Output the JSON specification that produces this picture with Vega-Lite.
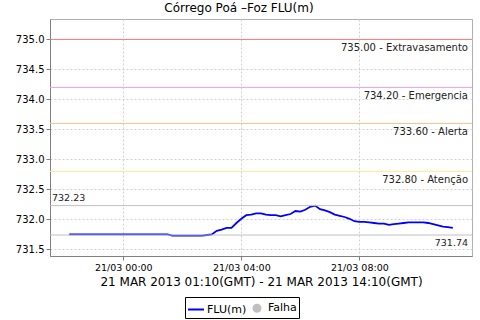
{
  "$schema": "https://vega.github.io/schema/vega-lite/v6.json",
  "width": 422,
  "height": 237,
  "autosize": {"type": "none"},
  "padding": {"left": 50, "top": 19, "right": 8, "bottom": 64},
  "background": "white",
  "title": {"text": "Córrego Poá –Foz FLU(m)", "font": "DejaVu Sans", "fontSize": 12, "fontWeight": "normal", "color": "black", "offset": 4, "dx": -22},
  "config": {
    "view": {"stroke": "#b0b0b0", "strokeWidth": 1},
    "axis": {"labelFont": "DejaVu Sans", "titleFont": "DejaVu Sans", "labelColor": "black", "titleColor": "black", "domainColor": "#808080", "tickColor": "#808080", "tickSize": 4, "gridColor": "#d0d0d0", "gridDash": [2, 2], "gridWidth": 1, "labelOverlap": false},
    "legend": {"strokeColor": "black", "fillColor": "white", "padding": 2}
  },
  "datasets": {
    "flu": [
      {"t": "2013-03-20T22:10:00Z", "v": 731.75},
      {"t": "2013-03-20T22:30:00Z", "v": 731.75},
      {"t": "2013-03-20T23:00:00Z", "v": 731.75},
      {"t": "2013-03-20T23:30:00Z", "v": 731.75},
      {"t": "2013-03-21T00:00:00Z", "v": 731.75},
      {"t": "2013-03-21T00:30:00Z", "v": 731.75},
      {"t": "2013-03-21T01:00:00Z", "v": 731.75},
      {"t": "2013-03-21T01:30:00Z", "v": 731.75},
      {"t": "2013-03-21T01:40:00Z", "v": 731.73},
      {"t": "2013-03-21T02:00:00Z", "v": 731.73},
      {"t": "2013-03-21T02:20:00Z", "v": 731.73},
      {"t": "2013-03-21T02:40:00Z", "v": 731.73},
      {"t": "2013-03-21T02:50:00Z", "v": 731.74},
      {"t": "2013-03-21T03:00:00Z", "v": 731.75},
      {"t": "2013-03-21T03:10:00Z", "v": 731.81},
      {"t": "2013-03-21T03:20:00Z", "v": 731.83},
      {"t": "2013-03-21T03:30:00Z", "v": 731.86},
      {"t": "2013-03-21T03:40:00Z", "v": 731.86},
      {"t": "2013-03-21T03:50:00Z", "v": 731.94},
      {"t": "2013-03-21T04:00:00Z", "v": 732.01},
      {"t": "2013-03-21T04:10:00Z", "v": 732.07},
      {"t": "2013-03-21T04:20:00Z", "v": 732.08},
      {"t": "2013-03-21T04:30:00Z", "v": 732.1},
      {"t": "2013-03-21T04:40:00Z", "v": 732.1},
      {"t": "2013-03-21T04:50:00Z", "v": 732.08},
      {"t": "2013-03-21T05:00:00Z", "v": 732.07},
      {"t": "2013-03-21T05:10:00Z", "v": 732.07},
      {"t": "2013-03-21T05:20:00Z", "v": 732.05},
      {"t": "2013-03-21T05:30:00Z", "v": 732.07},
      {"t": "2013-03-21T05:40:00Z", "v": 732.09},
      {"t": "2013-03-21T05:50:00Z", "v": 732.14},
      {"t": "2013-03-21T06:00:00Z", "v": 732.13},
      {"t": "2013-03-21T06:10:00Z", "v": 732.16},
      {"t": "2013-03-21T06:20:00Z", "v": 732.21},
      {"t": "2013-03-21T06:30:00Z", "v": 732.23},
      {"t": "2013-03-21T06:40:00Z", "v": 732.17},
      {"t": "2013-03-21T06:50:00Z", "v": 732.15},
      {"t": "2013-03-21T07:00:00Z", "v": 732.12},
      {"t": "2013-03-21T07:10:00Z", "v": 732.08},
      {"t": "2013-03-21T07:20:00Z", "v": 732.06},
      {"t": "2013-03-21T07:30:00Z", "v": 732.04},
      {"t": "2013-03-21T07:40:00Z", "v": 732.01},
      {"t": "2013-03-21T07:50:00Z", "v": 731.97},
      {"t": "2013-03-21T08:00:00Z", "v": 731.96},
      {"t": "2013-03-21T08:10:00Z", "v": 731.96},
      {"t": "2013-03-21T08:20:00Z", "v": 731.95},
      {"t": "2013-03-21T08:30:00Z", "v": 731.94},
      {"t": "2013-03-21T08:40:00Z", "v": 731.93},
      {"t": "2013-03-21T08:50:00Z", "v": 731.93},
      {"t": "2013-03-21T09:00:00Z", "v": 731.91},
      {"t": "2013-03-21T09:10:00Z", "v": 731.92},
      {"t": "2013-03-21T09:20:00Z", "v": 731.93},
      {"t": "2013-03-21T09:30:00Z", "v": 731.94},
      {"t": "2013-03-21T09:40:00Z", "v": 731.95},
      {"t": "2013-03-21T09:50:00Z", "v": 731.95},
      {"t": "2013-03-21T10:00:00Z", "v": 731.95},
      {"t": "2013-03-21T10:10:00Z", "v": 731.95},
      {"t": "2013-03-21T10:20:00Z", "v": 731.94},
      {"t": "2013-03-21T10:30:00Z", "v": 731.92},
      {"t": "2013-03-21T10:40:00Z", "v": 731.9},
      {"t": "2013-03-21T10:50:00Z", "v": 731.88},
      {"t": "2013-03-21T11:00:00Z", "v": 731.87},
      {"t": "2013-03-21T11:10:00Z", "v": 731.86}
    ],
    "thresholds": [
      {"value": 735.0, "s": "Extravasamento", "label": "735.00 - Extravasamento"},
      {"value": 734.2, "s": "Emergencia", "label": "734.20 - Emergencia"},
      {"value": 733.6, "s": "Alerta", "label": "733.60 - Alerta"},
      {"value": 732.8, "s": "Atenção", "label": "732.80 - Atenção"}
    ],
    "maxmin": [
      {"value": 732.23, "kind": "max", "label": "732.23"},
      {"value": 731.74, "kind": "min", "label": "731.74"}
    ]
  },
  "layer": [
    {
      "data": {"name": "flu"},
      "mark": {"type": "line", "strokeWidth": 1.8, "clip": true},
      "encoding": {
        "x": {
          "field": "t", "type": "temporal",
          "scale": {"type": "utc", "domain": [{"year": 2013, "month": 3, "date": 20, "hours": 21, "minutes": 31, "utc": true}, {"year": 2013, "month": 3, "date": 21, "hours": 11, "minutes": 49, "utc": true}]},
          "axis": {
            "values": [{"year": 2013, "month": 3, "date": 21, "hours": 0, "utc": true}, {"year": 2013, "month": 3, "date": 21, "hours": 4, "utc": true}, {"year": 2013, "month": 3, "date": 21, "hours": 8, "utc": true}],
            "format": "%d/%m %H:%M", "labelFontSize": 9.5, "labelPadding": 2, "labelOverlap": false,
            "title": "21 MAR 2013 01:10(GMT) - 21 MAR 2013 14:10(GMT)", "titleFontSize": 12, "titleFontWeight": "normal", "titlePadding": 5,
            "grid": true
          }
        },
        "y": {
          "field": "v", "type": "quantitative",
          "scale": {"domain": [731.39, 735.34], "zero": false, "nice": false},
          "axis": {
            "tickCount": 8,
            "labelExpr": "format(datum.value, '.1f')", "labelFontSize": 10, "labelPadding": 2, "labelOverlap": false, "labelBound": false, "title": null, "grid": true
          }
        },
        "color": {
          "datum": "FLU(m)",
          "scale": {"domain": ["FLU(m)", "Falha"], "range": ["#0000ff", "#c0c0c0"]},
          "legend": {
            "title": null, "orient": "none", "legendX": 135, "legendY": 278, "direction": "horizontal",
            "strokeColor": "black", "fillColor": "white", "padding": 2, "labelFont": "DejaVu Sans", "labelFontSize": 11, "labelColor": "black",
            "labelOffset": 2, "columnPadding": 1, "symbolStrokeWidth": 2, "symbolSize": 256,
            "encode": {
              "symbols": {
                "update": {
                  "shape": {"signal": "datum.value === 'Falha' ? 'circle' : 'stroke'"},
                  "size": {"signal": "datum.value === 'Falha' ? 50 : 256"},
                  "fill": {"signal": "datum.value === 'Falha' ? '#c0c0c0' : 'transparent'"},
                  "stroke": {"signal": "datum.value === 'Falha' ? 'transparent' : '#0000ff'"},
                  "opacity": {"value": 1}
                }
              }
            }
          }
        }
      }
    },
    {
      "data": {"name": "thresholds"},
      "transform": [{"filter": "datum.s === 'Extravasamento'"}],
      "mark": {"type": "rule", "strokeWidth": 1, "stroke": "#ec7c7c"},
      "encoding": {"y": {"field": "value", "type": "quantitative"}}
    },
    {
      "data": {"name": "thresholds"},
      "transform": [{"filter": "datum.s === 'Emergencia'"}],
      "mark": {"type": "rule", "strokeWidth": 1, "stroke": "#ee9cee"},
      "encoding": {"y": {"field": "value", "type": "quantitative"}}
    },
    {
      "data": {"name": "thresholds"},
      "transform": [{"filter": "datum.s === 'Alerta'"}],
      "mark": {"type": "rule", "strokeWidth": 1, "stroke": "#f6c08c"},
      "encoding": {"y": {"field": "value", "type": "quantitative"}}
    },
    {
      "data": {"name": "thresholds"},
      "transform": [{"filter": "datum.s === 'Atenção'"}],
      "mark": {"type": "rule", "strokeWidth": 1, "stroke": "#f6ec98"},
      "encoding": {"y": {"field": "value", "type": "quantitative"}}
    },
    {
      "data": {"name": "maxmin"},
      "mark": {"type": "rule", "strokeWidth": 1, "stroke": "#c0c0c0"},
      "encoding": {"y": {"field": "value", "type": "quantitative"}}
    },
    {
      "data": {"name": "thresholds"},
      "mark": {"type": "text", "align": "right", "baseline": "middle", "dx": -4, "dy": 9, "font": "DejaVu Sans", "fontSize": 10, "color": "#222222"},
      "encoding": {
        "x": {"datum": {"year": 2013, "month": 3, "date": 21, "hours": 11, "minutes": 49, "utc": true}, "type": "temporal"},
        "y": {"field": "value", "type": "quantitative"},
        "text": {"field": "label"}
      }
    },
    {
      "data": {"name": "maxmin"},
      "transform": [{"filter": "datum.kind === 'max'"}],
      "mark": {"type": "text", "align": "left", "baseline": "middle", "dx": 2, "dy": -8, "font": "DejaVu Sans", "fontSize": 9.5, "color": "#222222"},
      "encoding": {
        "x": {"datum": {"year": 2013, "month": 3, "date": 20, "hours": 21, "minutes": 31, "utc": true}, "type": "temporal"},
        "y": {"field": "value", "type": "quantitative"},
        "text": {"field": "label"}
      }
    },
    {
      "data": {"name": "maxmin"},
      "transform": [{"filter": "datum.kind === 'min'"}],
      "mark": {"type": "text", "align": "right", "baseline": "middle", "dx": -4, "dy": 8, "font": "DejaVu Sans", "fontSize": 9.5, "color": "#222222"},
      "encoding": {
        "x": {"datum": {"year": 2013, "month": 3, "date": 21, "hours": 11, "minutes": 49, "utc": true}, "type": "temporal"},
        "y": {"field": "value", "type": "quantitative"},
        "text": {"field": "label"}
      }
    }
  ]
}
